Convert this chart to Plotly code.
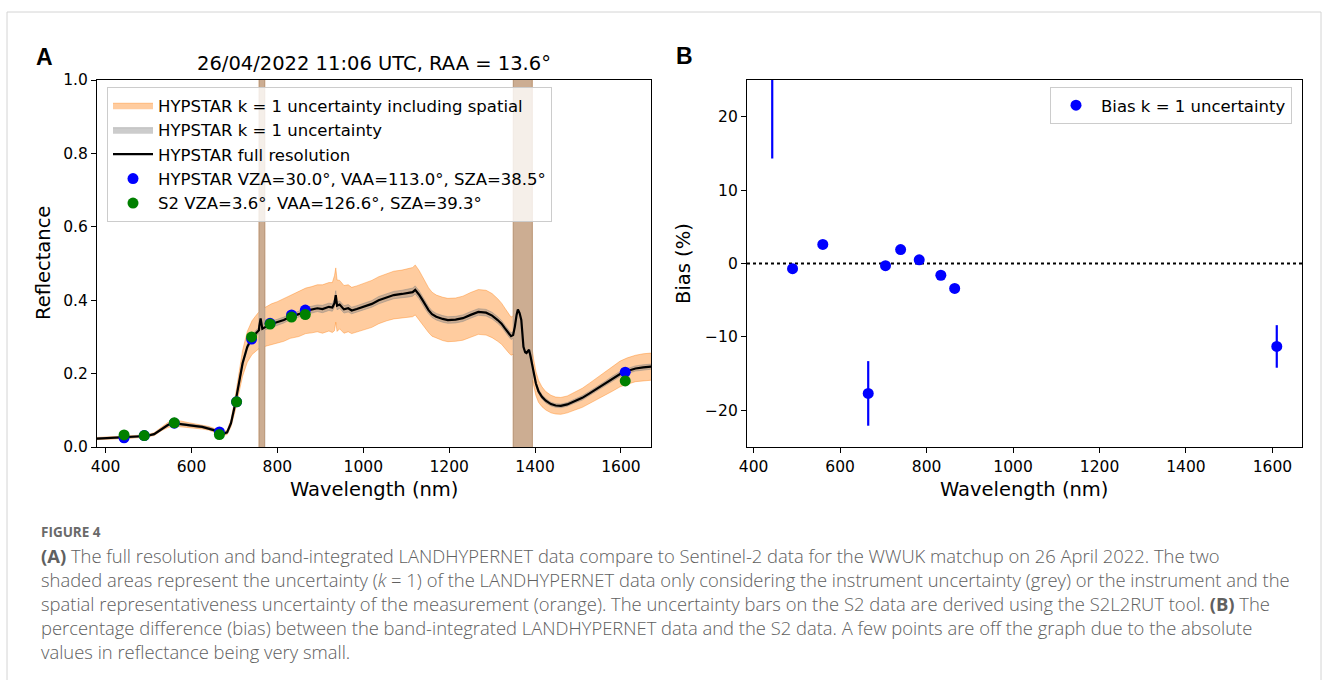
import plotly.graph_objects as go

W, H = 1328, 680

# ---------------- data ----------------
wl = [380, 400, 430, 460, 495, 513, 531, 545, 558, 575, 590, 610, 625, 640, 652, 665, 674, 683, 692, 701,
      710, 719, 730, 741, 752, 757, 758, 761, 765, 770, 771, 777, 786, 800, 815, 830, 850, 866, 880, 893,
      905, 920, 928, 933, 936, 939, 945, 955, 965, 973, 985, 1000, 1020, 1036, 1055, 1071, 1090, 1107, 1115, 1121,
      1130, 1138, 1145, 1152, 1160, 1170, 1185, 1197, 1215, 1232, 1250, 1268, 1286, 1300, 1313, 1322, 1330, 1337, 1344, 1349,
      1350, 1353, 1357, 1360, 1364, 1368, 1373, 1377, 1380, 1386, 1389, 1393, 1394, 1397, 1402, 1408, 1416, 1425, 1437, 1448,
      1460, 1475, 1491, 1510, 1527, 1545, 1563, 1580, 1598, 1615, 1634, 1652, 1671]
refl = [0.023, 0.024, 0.025, 0.027, 0.030, 0.035, 0.050, 0.060, 0.065, 0.063, 0.060, 0.057, 0.055, 0.051, 0.046, 0.040, 0.036, 0.040, 0.065, 0.113,
        0.172, 0.228, 0.273, 0.298, 0.312, 0.318, 0.330, 0.350, 0.322, 0.326, 0.327, 0.330, 0.335, 0.340, 0.346, 0.355, 0.362, 0.371, 0.374, 0.378,
        0.376, 0.382, 0.380, 0.392, 0.414, 0.385, 0.388, 0.375, 0.378, 0.372, 0.376, 0.382, 0.390, 0.400, 0.408, 0.414, 0.417, 0.420, 0.422, 0.428,
        0.415, 0.400, 0.385, 0.373, 0.362, 0.355, 0.349, 0.346, 0.347, 0.351, 0.360, 0.368, 0.366, 0.358, 0.346, 0.336, 0.323, 0.312, 0.302, 0.305,
        0.310, 0.328, 0.360, 0.375, 0.365, 0.346, 0.273, 0.258, 0.256, 0.265, 0.250, 0.228, 0.222, 0.200, 0.173, 0.152, 0.137, 0.126, 0.117, 0.113,
        0.112, 0.116, 0.124, 0.134, 0.146, 0.159, 0.173, 0.186, 0.199, 0.207, 0.214, 0.217, 0.219]
# k=1 uncertainty including spatial representativeness (absolute reflectance)
unc_spatial = [0.003, 0.003, 0.003, 0.003, 0.003, 0.004, 0.005, 0.007, 0.008, 0.008, 0.007, 0.006, 0.006, 0.005, 0.005, 0.005, 0.005, 0.006, 0.010, 0.018,
               0.027, 0.035, 0.042, 0.046, 0.049, 0.050, 2.0, 2.0, 2.0, 2.0, 0.053, 0.054, 0.055, 0.056, 0.058, 0.059, 0.061, 0.062, 0.063, 0.064,
               0.066, 0.066, 0.068, 0.075, 0.074, 0.070, 0.066, 0.065, 0.064, 0.063, 0.063, 0.063, 0.064, 0.064, 0.064, 0.065, 0.065, 0.066, 0.067, 0.068,
               0.066, 0.064, 0.062, 0.061, 0.060, 0.059, 0.059, 0.059, 0.059, 0.060, 0.061, 0.061, 0.061, 0.060, 0.058, 0.056, 0.055, 0.053, 0.052, 0.052,
               2.0, 2.0, 2.0, 2.0, 2.0, 2.0, 2.0, 2.0, 2.0, 2.0, 2.0, 2.0, 0.040, 0.037, 0.033, 0.030, 0.027, 0.025, 0.024, 0.023,
               0.023, 0.023, 0.024, 0.026, 0.028, 0.030, 0.032, 0.034, 0.035, 0.036, 0.036, 0.037, 0.037]
# k=1 instrument-only uncertainty
unc_inst = [0.002, 0.002, 0.002, 0.002, 0.002, 0.002, 0.003, 0.003, 0.003, 0.003, 0.003, 0.003, 0.003, 0.003, 0.003, 0.003, 0.003, 0.003, 0.004, 0.005,
            0.006, 0.007, 0.007, 0.008, 0.008, 0.008, 2.0, 2.0, 2.0, 2.0, 0.008, 0.008, 0.008, 0.008, 0.008, 0.008, 0.008, 0.009, 0.009, 0.009,
            0.010, 0.010, 0.010, 0.011, 0.012, 0.011, 0.010, 0.010, 0.010, 0.009, 0.009, 0.009, 0.009, 0.010, 0.010, 0.010, 0.010, 0.011, 0.011, 0.011,
            0.011, 0.010, 0.010, 0.010, 0.009, 0.009, 0.009, 0.009, 0.009, 0.009, 0.009, 0.009, 0.009, 0.009, 0.009, 0.009, 0.009, 0.009, 0.009, 0.009,
            2.0, 2.0, 2.0, 2.0, 2.0, 2.0, 2.0, 2.0, 2.0, 2.0, 2.0, 2.0, 0.007, 0.007, 0.006, 0.006, 0.006, 0.006, 0.005, 0.005,
            0.005, 0.005, 0.005, 0.006, 0.006, 0.006, 0.006, 0.007, 0.007, 0.007, 0.007, 0.007, 0.007]

band_wl = [443, 490, 560, 665, 705, 740, 783, 833, 865, 1610]
hyp_band = [0.025, 0.031, 0.065, 0.041, 0.123, 0.294, 0.337, 0.360, 0.373, 0.204]
s2_band = [0.033, 0.031, 0.066, 0.034, 0.123, 0.300, 0.335, 0.354, 0.361, 0.180]
s2_unc = [0.002, 0.002, 0.003, 0.002, 0.004, 0.006, 0.006, 0.006, 0.006, 0.004]

bias = [35.0, -0.7, 2.6, -17.7, -0.3, 1.9, 0.5, -1.6, -3.4, -11.3]
bias_unc = [20.7, 0.3, 0.3, 4.4, 0.3, 0.3, 0.3, 0.3, 0.3, 2.9]

xticks = [400, 600, 800, 1000, 1200, 1400, 1600]
yticks_a = [0.0, 0.2, 0.4, 0.6, 0.8, 1.0]
yticks_b = [-20, -10, 0, 10, 20]

title_a = "26/04/2022 11:06 UTC, RAA = 13.6°"
legend_names = ["HYPSTAR k = 1 uncertainty including spatial",
                "HYPSTAR k = 1 uncertainty",
                "HYPSTAR full resolution",
                "HYPSTAR VZA=30.0°, VAA=113.0°, SZA=38.5°",
                "S2 VZA=3.6°, VAA=126.6°, SZA=39.3°"]
bias_name = "Bias k = 1 uncertainty"

caption_head = "FIGURE 4"
caption_lines = [
    "<b>(A)</b> The full resolution and band-integrated LANDHYPERNET data compare to Sentinel-2 data for the WWUK matchup on 26 April 2022. The two",
    "shaded areas represent the uncertainty (<i>k</i> = 1) of the LANDHYPERNET data only considering the instrument uncertainty (grey) or the instrument and the",
    "spatial representativeness uncertainty of the measurement (orange). The uncertainty bars on the S2 data are derived using the S2L2RUT tool. <b>(B)</b> The",
    "percentage difference (bias) between the band-integrated LANDHYPERNET data and the S2 data. A few points are off the graph due to the absolute",
    "values in reflectance being very small.",
]

# ---------------- helpers ----------------
def px(x):
    return x / W


def py(y):
    return 1 - y / H


MPL = "DejaVu Sans"
ORANGE_FILL = "rgba(255,127,14,0.40)"
GREY_FILL = "rgba(127,127,127,0.40)"

fig = go.Figure()

up_s = [r + u for r, u in zip(refl, unc_spatial)]
lo_s = [r - u for r, u in zip(refl, unc_spatial)]
up_i = [r + u for r, u in zip(refl, unc_inst)]
lo_i = [r - u for r, u in zip(refl, unc_inst)]

fig.add_trace(go.Scatter(x=wl + wl[::-1], y=up_s + lo_s[::-1], fill="toself", fillcolor=ORANGE_FILL,
                         line=dict(color=ORANGE_FILL, width=1), mode="lines", name=legend_names[0],
                         xaxis="x", yaxis="y", legend="legend", hoverinfo="skip"))
fig.add_trace(go.Scatter(x=wl + wl[::-1], y=up_i + lo_i[::-1], fill="toself", fillcolor=GREY_FILL,
                         line=dict(color=GREY_FILL, width=1), mode="lines", name=legend_names[1],
                         xaxis="x", yaxis="y", legend="legend", hoverinfo="skip"))
fig.add_trace(go.Scatter(x=wl, y=refl, mode="lines", line=dict(color="black", width=2.2),
                         name=legend_names[2], xaxis="x", yaxis="y", legend="legend"))
fig.add_trace(go.Scatter(x=band_wl, y=hyp_band, mode="markers",
                         marker=dict(color="#0000ff", size=11),
                         name=legend_names[3], xaxis="x", yaxis="y", legend="legend"))
fig.add_trace(go.Scatter(x=band_wl, y=s2_band, mode="markers",
                         marker=dict(color="#008000", size=11),
                         error_y=dict(type="data", array=s2_unc, color="#008000", thickness=2, width=0),
                         name=legend_names[4], xaxis="x", yaxis="y", legend="legend"))

fig.add_trace(go.Scatter(x=band_wl, y=bias, mode="markers",
                         marker=dict(color="#0000ff", size=11),
                         error_y=dict(type="data", array=bias_unc, color="#0000ff", thickness=2.2, width=0),
                         name=bias_name, xaxis="x2", yaxis="y2", legend="legend2"))

axis_common = dict(showline=True, mirror=True, linecolor="black", linewidth=1.2,
                   ticks="outside", ticklen=5, tickwidth=1.2, tickcolor="black",
                   showgrid=False, zeroline=False, automargin=False,
                   tickfont=dict(family=MPL, size=15.5, color="black"))

fig.update_layout(
    width=W, height=H,
    margin=dict(l=0, r=0, t=0, b=0),
    paper_bgcolor="white", plot_bgcolor="white",
    template="none",
    showlegend=True,
    xaxis=dict(domain=[px(97), px(651)], range=[380, 1670], tickvals=xticks, anchor="y", **axis_common),
    yaxis=dict(domain=[py(447), py(80)], range=[0, 1], tickvals=yticks_a, tickformat=".1f", anchor="x", **axis_common),
    xaxis2=dict(domain=[px(747), px(1302)], range=[384.65, 1668.35], tickvals=xticks, anchor="y2", **axis_common),
    yaxis2=dict(domain=[py(447), py(80)], range=[-25, 25], tickvals=yticks_b, anchor="x2", **axis_common),
    legend=dict(x=px(107), y=py(87), xanchor="left", yanchor="top",
                bgcolor="rgba(255,255,255,0.8)", bordercolor="#cccccc", borderwidth=1,
                font=dict(family=MPL, size=16.5, color="black"), itemwidth=40, tracegroupgap=0),
    legend2=dict(x=px(1292), y=py(87), xanchor="right", yanchor="top",
                 bgcolor="rgba(255,255,255,0.8)", bordercolor="#cccccc", borderwidth=1,
                 font=dict(family=MPL, size=16.5, color="black"), itemwidth=40),
)

fig.add_shape(type="line", xref="x2 domain", yref="y2", x0=0, x1=1, y0=0, y1=0,
              line=dict(color="black", width=2, dash="dot"), layer="below")

fig.add_shape(type="rect", xref="paper", yref="paper", x0=px(7), x1=px(1321), y0=py(700), y1=py(12),
              line=dict(color="#d4d4d4", width=1), layer="below")

ann = []
ann.append(dict(text="<b>A</b>", x=px(44), y=py(57), font=dict(family="Liberation Sans", size=23, color="black")))
ann.append(dict(text="<b>B</b>", x=px(684), y=py(56), font=dict(family="Liberation Sans", size=23, color="black")))
ann.append(dict(text=title_a, x=px(374), y=py(63), font=dict(family=MPL, size=19.5, color="black")))
ann.append(dict(text="Wavelength (nm)", x=px(374), y=py(489), font=dict(family=MPL, size=19.5, color="black")))
ann.append(dict(text="Wavelength (nm)", x=px(1024), y=py(489), font=dict(family=MPL, size=19.5, color="black")))
ann.append(dict(text="Reflectance", x=px(43), y=py(263), textangle=-90, font=dict(family=MPL, size=19.5, color="black")))
ann.append(dict(text="Bias (%)", x=px(683), y=py(263), textangle=-90, font=dict(family=MPL, size=19.5, color="black")))
for a in ann:
    a.update(xref="paper", yref="paper", showarrow=False, xanchor="center", yanchor="middle")
    fig.add_annotation(**a)

fig.add_annotation(text="<b>" + caption_head + "</b>", x=px(39), y=py(532), xref="paper", yref="paper",
                   showarrow=False, xanchor="left", yanchor="middle",
                   font=dict(family="Open Sans", size=13.5, color="#6a6a6a"))
line_y = [555, 579, 603, 627, 651]
for t, yy in zip(caption_lines, line_y):
    fig.add_annotation(text=t, x=px(39), y=py(yy), xref="paper", yref="paper", showarrow=False,
                       xanchor="left", yanchor="middle", align="left",
                       font=dict(family="Open Sans", size=18.4, color="#606060", weight=300))

fig.write_html("out.html", config={"displayModeBar": False},
               post_script="document.body.style.margin='0';")
